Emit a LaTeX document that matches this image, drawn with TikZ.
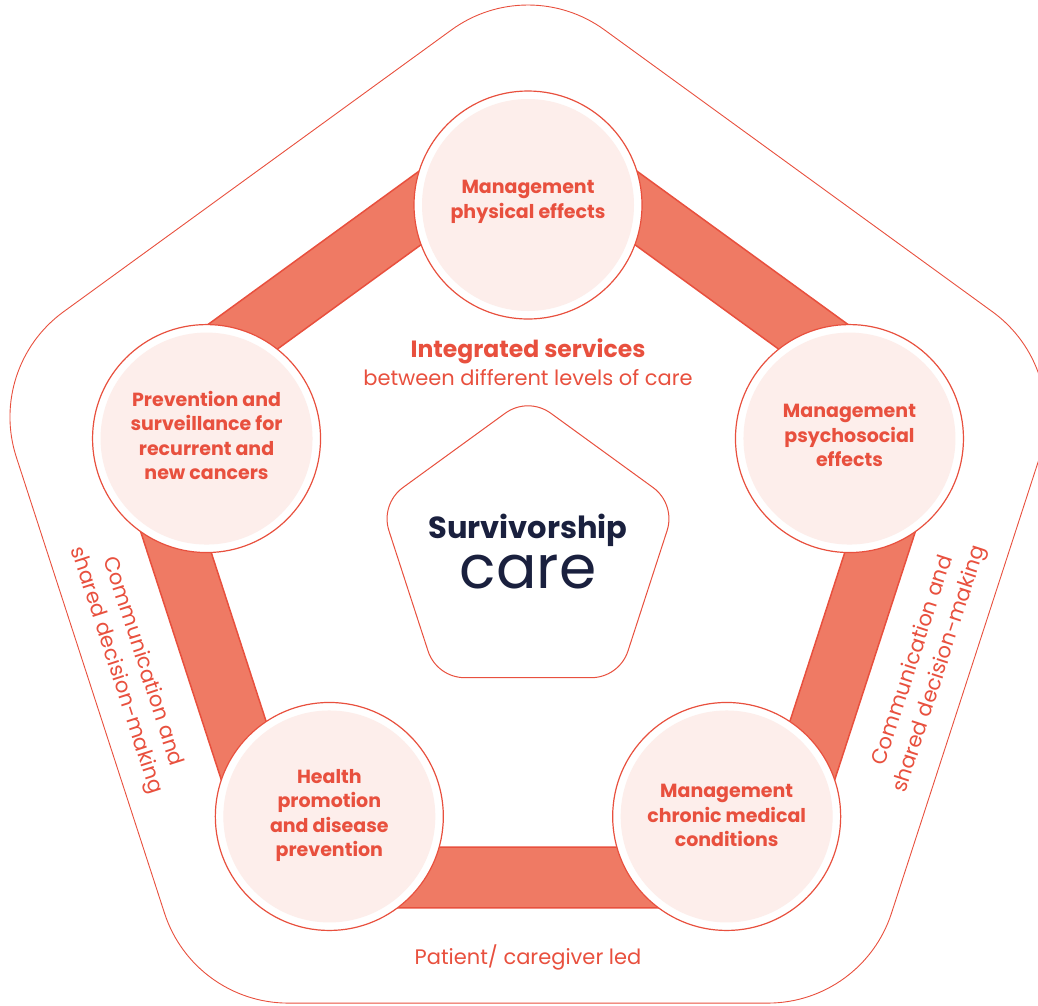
\documentclass[tikz,border=0pt]{standalone}
\usepackage{fontspec}
\setmainfont{Poppins}
\usetikzlibrary{calc}
\definecolor{cred}{RGB}{232,80,62}
\definecolor{cband}{RGB}{239,122,100}
\definecolor{cpink}{RGB}{253,238,235}
\definecolor{cnavy}{RGB}{26,32,62}
\tikzset{
  rpent/.style n args={4}{insert path={
    ($(#1,#2)+(-90:#3)+(-126:#4)$) arc[start angle=-126,end angle=-54,radius=#4]
    -- ($(#1,#2)+(-18:#3)+(-54:#4)$) arc[start angle=-54,end angle=18,radius=#4]
    -- ($(#1,#2)+(54:#3)+(18:#4)$) arc[start angle=18,end angle=90,radius=#4]
    -- ($(#1,#2)+(126:#3)+(90:#4)$) arc[start angle=90,end angle=162,radius=#4]
    -- ($(#1,#2)+(198:#3)+(162:#4)$) arc[start angle=162,end angle=234,radius=#4]
    -- cycle}},
  ring/.style={circle, minimum size=228pt, inner sep=0pt, fill=white, draw=cred, line width=1.2pt},
  core/.style={circle, minimum size=212pt, inner sep=0pt, fill=cpink},
  ctext/.style={font=\bfseries\fontsize{19}{24.5}\selectfont, text=cred, align=center},
  ltext/.style={font=\fontsize{21}{24}\selectfont, text=cred, align=center},
  stext/.style={font=\fontsize{21}{28}\selectfont, text=cred, align=center},
}
\begin{document}
\begin{tikzpicture}[x=1pt,y=-1pt]
\useasboundingbox (0,0) rectangle (1038,1005);
% outer rounded pentagon
\draw[cred, line width=0.9pt, rpent={528}{543}{408}{130}];
% band
\fill[cband, draw=cred, line width=1.5pt, even odd rule]
  ($(528,543)+(-90:451)$) -- ($(528,543)+(-18:451)$) -- ($(528,543)+(54:451)$) -- ($(528,543)+(126:451)$) -- ($(528,543)+(198:451)$) -- cycle
  ($(528,543)+(-90:376)$) -- ($(528,543)+(-18:376)$) -- ($(528,543)+(54:376)$) -- ($(528,543)+(126:376)$) -- ($(528,543)+(198:376)$) -- cycle;
% circles
\coordinate (ct) at ($(528,543)+(-90:338)$);
\coordinate (cr) at ($(528,543)+(-18:338)$);
\coordinate (cbr) at ($(528,543)+(54:338)$);
\coordinate (cbl) at ($(528,543)+(126:338)$);
\coordinate (cl) at ($(528,543)+(198:338)$);
\foreach \c in {ct,cr,cbr,cbl,cl}{
  \node[ring] at (\c) {};
  \node[core] at (\c) {};
}
\node[ctext] (tt) at ($(ct)+(0,-3)$) {Management\\physical effects};
\node[ctext] (tr) at ($(cr)+(0,-3)$) {Management\\psychosocial\\effects};
\node[ctext] (tbr) at ($(cbr)+(0,-1)$) {Management\\chronic medical\\conditions};
\node[ctext] (tbl) at ($(cbl)+(0,-1)$) {Health\\promotion\\and disease\\prevention};
\node[ctext] (tl) at ($(cl)+(0,-3)$) {Prevention and\\surveillance for\\recurrent and\\new cancers};
% center pentagon
\draw[cred, line width=1pt, fill=white, rpent={528}{552}{107.5}{38.7}];
\node[font=\bfseries\fontsize{30.5}{31}\selectfont, text=cnavy] (surv) at (528,530) {Survivorship};
\node[font=\fontsize{60}{60}\selectfont, text=cnavy] (care) at (528,572) {care};
% labels
\node[font=\bfseries\fontsize{23.5}{26}\selectfont, text=cred] (integ) at (528,351) {Integrated services};
\node[ltext] (betw) at (528,378) {between different levels of care};
\node[ltext] (pat) at (528,957) {Patient/ caregiver led};
\node[stext, rotate=-72] (comL) at (129,666) {Communication and\\shared decision-making};
\node[stext, rotate=72] (comR) at (927,665) {Communication and\\shared decision-making};
\end{tikzpicture}
\end{document}
